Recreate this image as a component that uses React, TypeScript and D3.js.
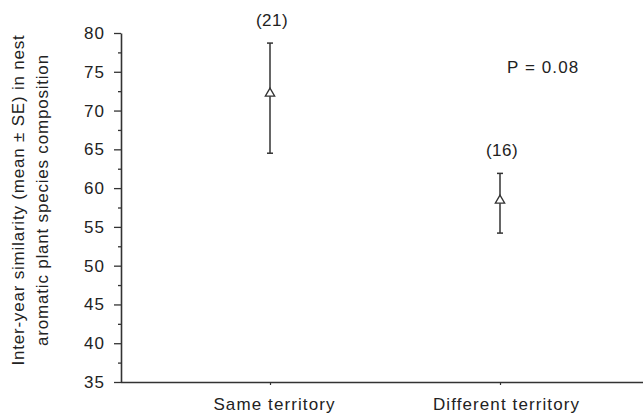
import React, { useEffect, useRef } from "react";
import * as d3 from "d3";

// values
const groups = ["Same territory", "Different territory"];
const means = [72.2, 58.4];
const upper = [78.7, 61.9];
const lower = [64.5, 54.2];
const sampleSizes = ["(21)", "(16)"];
const yTicks = [35, 40, 45, 50, 55, 60, 65, 70, 75, 80];
const yMinorTicks = [37.5, 42.5, 47.5, 52.5, 57.5, 62.5, 67.5, 72.5, 77.5];
const pLabel = "P = 0.08";
const yTitle = [
  "Inter-year similarity (mean \u00b1 SE) in nest",
  "aromatic plant species composition",
];

function App() {
  const svgRef = useRef<SVGSVGElement | null>(null);
  const [width, height] = [643, 417];
  const margin = { top: 33, right: 0, bottom: 35, left: 121 };
  const ink = "#333";
  const font = "'Liberation Sans', Arial, sans-serif";
  const fs = 17;

  useEffect(() => {
    const svg = d3.select(svgRef.current);
    svg.selectAll("*").remove();

    const x = d3.scalePoint<string>().domain(groups).range([270, 500]);
    const y = d3
      .scaleLinear()
      .domain([35, 80])
      .range([height - margin.bottom, margin.top]);

    // y axis, major + minor ticks
    const yAxis = svg
      .append("g")
      .attr("transform", `translate(${margin.left},0)`)
      .call(
        d3
          .axisLeft(y)
          .tickValues(yTicks)
          .tickSize(7)
          .tickSizeOuter(0)
          .tickPadding(9)
      );
    yAxis.select(".domain").attr("stroke", ink).attr("stroke-width", 1.6);
    yAxis.selectAll(".tick line").attr("stroke", ink).attr("stroke-width", 1.3);
    yAxis
      .selectAll(".tick text")
      .attr("fill", "#222")
      .attr("font-size", fs)
      .attr("letter-spacing", 1)
      .attr("font-family", font);

    const yMinor = svg
      .append("g")
      .attr("transform", `translate(${margin.left},0)`)
      .call(d3.axisLeft(y).tickValues(yMinorTicks).tickSize(3).tickFormat(() => ""));
    yMinor.select(".domain").remove();
    yMinor.selectAll(".tick line").attr("stroke", ink).attr("stroke-width", 1.3);

    // x axis
    const xAxis = svg
      .append("g")
      .attr("transform", `translate(0,${height - margin.bottom})`)
      .call(d3.axisBottom(x).tickSize(3).tickSizeOuter(0).tickPadding(13));
    xAxis
      .select(".domain")
      .attr("d", `M${margin.left},0.5H${width}`)
      .attr("stroke", ink)
      .attr("stroke-width", 1.6);
    xAxis.selectAll(".tick line").attr("stroke", ink).attr("stroke-width", 1.2);
    xAxis
      .selectAll(".tick text")
      .attr("fill", "#222")
      .attr("font-size", fs)
      .attr("letter-spacing", 1.1)
      .attr("font-family", font)
      .attr("dx", (d, i) => (i === 1 ? 6 : 4));

    // y title
    const title = svg
      .append("text")
      .attr("transform", `translate(24,${200}) rotate(-90)`)
      .attr("text-anchor", "middle")
      .attr("fill", "#222")
      .attr("font-size", fs)
      .attr("letter-spacing", 0.8)
      .attr("font-family", font);
    title
      .selectAll("tspan")
      .data(yTitle)
      .join("tspan")
      .attr("x", 0)
      .attr("dy", (d, i) => (i === 0 ? 0 : 24))
      .text((d) => d);

    const data = groups.map((g, i) => ({
      g,
      mean: means[i],
      hi: upper[i],
      lo: lower[i],
      n: sampleSizes[i],
    }));

    const pts = svg.append("g");
    // whiskers
    pts
      .selectAll(".whisker")
      .data(data)
      .join("line")
      .attr("x1", (d) => x(d.g)!)
      .attr("x2", (d) => x(d.g)!)
      .attr("y1", (d) => y(d.hi))
      .attr("y2", (d) => y(d.lo))
      .attr("stroke", ink)
      .attr("stroke-width", 1.5);
    // caps
    ["hi", "lo"].forEach((k) => {
      pts
        .selectAll(`.cap-${k}`)
        .data(data)
        .join("line")
        .attr("x1", (d) => x(d.g)! - 3)
        .attr("x2", (d) => x(d.g)! + 3)
        .attr("y1", (d: any) => y(d[k]))
        .attr("y2", (d: any) => y(d[k]))
        .attr("stroke", ink)
        .attr("stroke-width", 1.5);
    });
    // triangle markers
    const tri = d3.symbol().type(d3.symbolTriangle).size(38);
    pts
      .selectAll(".mark")
      .data(data)
      .join("path")
      .attr("d", tri)
      .attr("transform", (d) => `translate(${x(d.g)},${y(d.mean)})`)
      .attr("fill", "#fff")
      .attr("stroke", ink)
      .attr("stroke-width", 1.3);
    // n labels
    pts
      .selectAll(".n")
      .data(data)
      .join("text")
      .attr("x", (d) => x(d.g)! + 2)
      .attr("y", (d) => y(d.hi) - 17)
      .attr("text-anchor", "middle")
      .attr("fill", "#222")
      .attr("font-size", fs)
      .attr("letter-spacing", 0.5)
      .attr("font-family", font)
      .text((d) => d.n);

    svg
      .append("text")
      .attr("x", 507)
      .attr("y", 73)
      .attr("fill", "#222")
      .attr("font-size", fs)
      .attr("letter-spacing", 1.1)
      .attr("font-family", font)
      .text(pLabel);
  }, []);

  return (
    <div style={{ position: "absolute", left: 0, top: 0 }}>
      <svg ref={svgRef} width={width} height={height} style={{ display: "block", background: "#fff" }}></svg>
    </div>
  );
}

export default App;
